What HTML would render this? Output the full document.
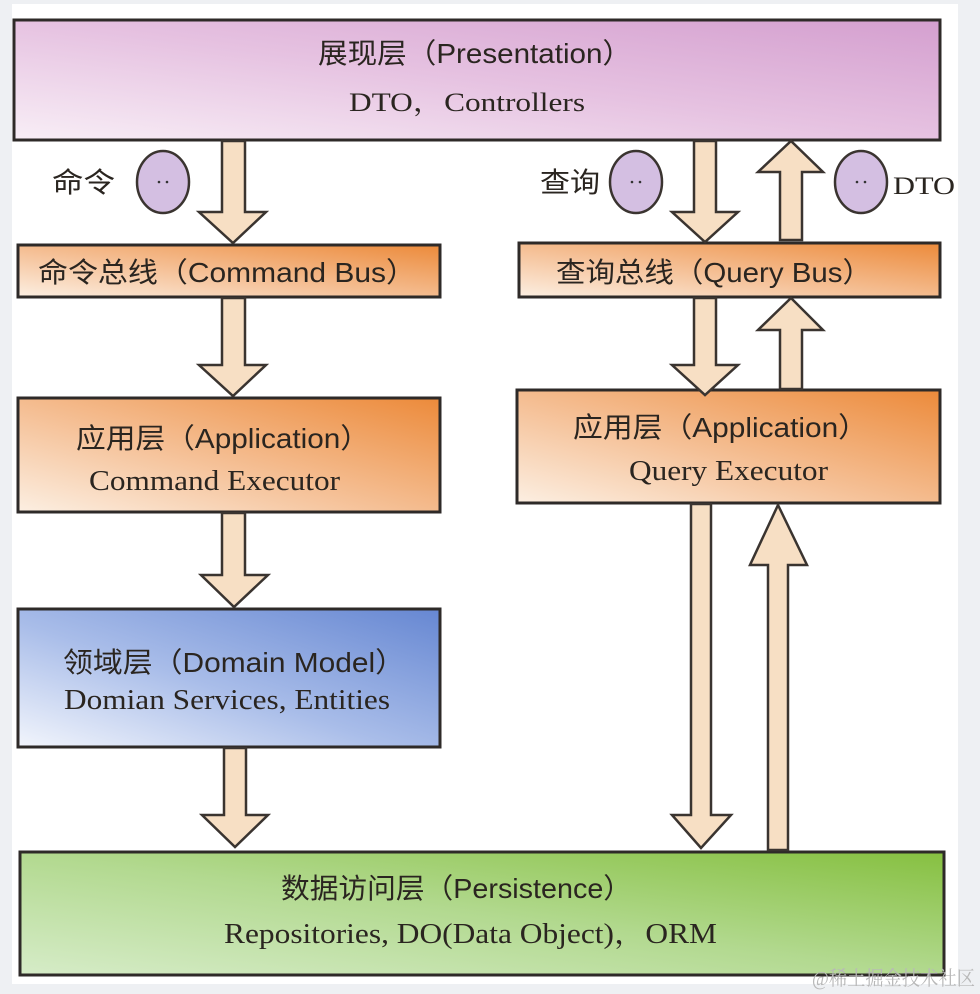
<!DOCTYPE html>
<html><head><meta charset="utf-8"><style>
html,body{margin:0;padding:0;background:#eef0f3;}
svg{display:block}
.cn{font-family:"Liberation Sans","Noto Sans CJK SC",sans-serif;fill:#2a2520}
.sf{font-family:"Liberation Serif","Noto Serif CJK SC",serif;fill:#2a2520}
</style></head><body>
<svg width="980" height="994" viewBox="0 0 980 994" xmlns="http://www.w3.org/2000/svg">
<defs>
<linearGradient id="pk" x1="0" y1="1" x2="1" y2="0"><stop offset="0" stop-color="#f8eef6"/><stop offset="0.5" stop-color="#e6c2e1"/><stop offset="1" stop-color="#d49fcf"/></linearGradient>
<linearGradient id="or" x1="0" y1="1" x2="1" y2="0"><stop offset="0" stop-color="#fcefe2"/><stop offset="0.45" stop-color="#f5c096"/><stop offset="1" stop-color="#ec8a3a"/></linearGradient>
<linearGradient id="bl" x1="0" y1="1" x2="1" y2="0"><stop offset="0" stop-color="#f2f5fc"/><stop offset="0.45" stop-color="#a9bde9"/><stop offset="1" stop-color="#6687d2"/></linearGradient>
<linearGradient id="gr" x1="0" y1="1" x2="1" y2="0"><stop offset="0" stop-color="#d6ecc8"/><stop offset="0.5" stop-color="#b2d98f"/><stop offset="1" stop-color="#86c040"/></linearGradient>
</defs>
<rect x="12" y="4" width="946" height="980" fill="#ffffff"/>
<g stroke="#2e2a28" stroke-width="3">
<rect x="14" y="20" width="926" height="120" fill="url(#pk)"/>
<rect x="18" y="245" width="422" height="52" fill="url(#or)"/>
<rect x="519" y="243" width="421" height="54" fill="url(#or)"/>
<rect x="18" y="398" width="422" height="114" fill="url(#or)"/>
<rect x="517" y="390" width="423" height="113" fill="url(#or)"/>
<rect x="18" y="609" width="422" height="138" fill="url(#bl)"/>
<rect x="20" y="852" width="924" height="123" fill="url(#gr)"/>
</g>
<g fill="#f7dfc4" stroke="#3a3430" stroke-width="2.5" stroke-linejoin="miter">
<path d="M222,141 H245 V212 H266 L233,243 L199,212 H222 Z"/>
<path d="M222,298 H245 V365 H266 L233,396 L199,365 H222 Z"/>
<path d="M222,513 H245 V575 H268 L234,607 L201,575 H222 Z"/>
<path d="M224,748 H246 V815 H268 L235,847 L202,815 H224 Z"/>
<path d="M694,141 H716 V212 H738 L705,242 L672,212 H694 Z"/>
<path d="M780,240 H802 V172 H823 L791,141 L758,172 H780 Z"/>
<path d="M694,298 H716 V365 H738 L705,395 L672,365 H694 Z"/>
<path d="M780,389 H802 V330 H823 L791,298 L758,330 H780 Z"/>
<path d="M691,504 H711 V815 H731 L701,848 L672,815 H691 Z"/>
<path d="M768,850 H788 V565 H807 L778,505 L750,565 H768 Z"/>
</g>
<g fill="#d4bfe2" stroke="#3a3430" stroke-width="2.5">
<ellipse cx="163" cy="182" rx="26" ry="31"/>
<ellipse cx="636" cy="182" rx="26" ry="31"/>
<ellipse cx="861" cy="182" rx="26" ry="31"/>
</g>
<g fill="#333"><circle cx="159" cy="182" r="1.3"/><circle cx="167" cy="182" r="1.3"/><circle cx="632" cy="182" r="1.3"/><circle cx="640" cy="182" r="1.3"/><circle cx="857" cy="182" r="1.3"/><circle cx="865" cy="182" r="1.3"/></g>
<g lengthAdjust="spacingAndGlyphs">
<text class="cn" x="318" y="63" font-size="28" textLength="314" lengthAdjust="spacingAndGlyphs">展现层（Presentation）</text>
<text class="sf" x="349" y="111" font-size="26" textLength="236" lengthAdjust="spacingAndGlyphs">DTO，Controllers</text>
<text class="cn" x="52" y="192" font-size="28" textLength="63" lengthAdjust="spacingAndGlyphs">命令</text>
<text class="cn" x="540" y="192" font-size="28" textLength="60" lengthAdjust="spacingAndGlyphs">查询</text>
<text class="sf" x="893" y="194" font-size="25" textLength="62" lengthAdjust="spacingAndGlyphs">DTO</text>
<text class="cn" x="38" y="282" font-size="28" textLength="378" lengthAdjust="spacingAndGlyphs">命令总线（Command Bus）</text>
<text class="cn" x="556" y="282" font-size="28" textLength="316" lengthAdjust="spacingAndGlyphs">查询总线（Query Bus）</text>
<text class="cn" x="76" y="448" font-size="28" textLength="294" lengthAdjust="spacingAndGlyphs">应用层（Application）</text>
<text class="sf" x="89" y="490" font-size="28" textLength="251" lengthAdjust="spacingAndGlyphs">Command Executor</text>
<text class="cn" x="573" y="437" font-size="28" textLength="295" lengthAdjust="spacingAndGlyphs">应用层（Application）</text>
<text class="sf" x="629" y="480" font-size="28" textLength="199" lengthAdjust="spacingAndGlyphs">Query Executor</text>
<text class="cn" x="63" y="672" font-size="28" textLength="342" lengthAdjust="spacingAndGlyphs">领域层（Domain Model）</text>
<text class="sf" x="64" y="709" font-size="28" textLength="326" lengthAdjust="spacingAndGlyphs">Domian Services, Entities</text>
<text class="cn" x="281" y="898" font-size="28" textLength="351" lengthAdjust="spacingAndGlyphs">数据访问层（Persistence）</text>
<text class="sf" x="224" y="943" font-size="28" textLength="493" lengthAdjust="spacingAndGlyphs">Repositories, DO(Data Object)，ORM</text>
</g>
<text x="812" y="985" font-size="20" fill="#b8b8b8" textLength="163" lengthAdjust="spacingAndGlyphs" font-family="'Liberation Serif','Noto Serif CJK SC',serif">@稀土掘金技术社区</text>
</svg>
</body></html>
